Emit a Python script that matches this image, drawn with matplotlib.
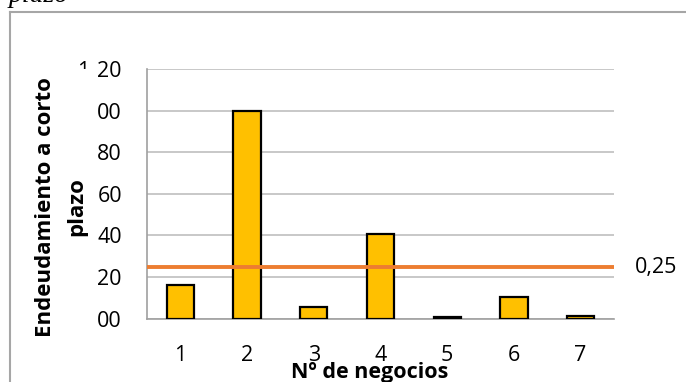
import matplotlib
matplotlib.use("Agg")
import matplotlib.pyplot as plt
from matplotlib.lines import Line2D
from matplotlib.transforms import Bbox

plt.rcParams['font.family'] = ['Open Sans', 'DejaVu Sans']

# data
negocios = [1, 2, 3, 4, 5, 6, 7]
endeudamiento = [0.163, 1.00, 0.058, 0.407, 0.008, 0.103, 0.012]
referencia = 0.25
y_ticks = [0.0, 0.2, 0.4, 0.6, 0.8, 1.0, 1.2]
y_tick_labels = ["00", "20", "40", "60", "80", "00", "20"]

W, H = 686, 382
fig = plt.figure(figsize=(W / 100, H / 100), dpi=100)

def fx(px):
    return px / W

def fy(py):
    return 1 - py / H

left, right, top, bottom = 147, 614, 69, 318.7
ax = fig.add_axes([fx(left), fy(bottom), fx(right - left), fy(top) - fy(bottom)])

ax.bar(negocios, endeudamiento, width=0.41, color="#FFC000",
       edgecolor="black", linewidth=1.6, zorder=3)
ax.axhline(referencia, color="#ED7D31", linewidth=2.8, zorder=4)

ax.set_xlim(0.5, 7.5)
ax.set_ylim(0, 1.2)
ax.set_yticks(y_ticks)
ax.set_yticklabels(y_tick_labels)
ax.set_xticks(negocios)
ax.set_xticklabels([str(n) for n in negocios])
ax.yaxis.grid(True, color="#BFBFBF", linewidth=1.2, zorder=0)
ax.set_axisbelow(True)
ax.tick_params(axis="both", length=0, labelsize=15.5, colors="black")
ax.tick_params(axis="y", pad=18)
ax.tick_params(axis="x", pad=19)
for s in ("top", "right"):
    ax.spines[s].set_visible(False)
for s in ("left", "bottom"):
    ax.spines[s].set_color("#A0A0A0")
    ax.spines[s].set_linewidth(1.2)

# value of the reference line
fig.text(fx(635), fy(267), "0,25", fontsize=15.5, ha="left", va="center")

# leading digit of the top tick, partly hidden
t1 = fig.text(fx(77), fy(61), "1", fontsize=15.5, ha="left", va="top")
t1.set_clip_box(Bbox.from_extents(0, H - 69, W, H))
t1.set_clip_on(True)

# axis titles
fig.text(fx(61), fy(207), "Endeudamiento a corto\nplazo", fontsize=16,
         fontweight="bold", rotation=90, ha="center", va="center",
         multialignment="center", linespacing=1.62)
fig.text(fx(370), fy(378), "Nº de negocios", fontsize=15.5,
         fontweight="bold", ha="center", va="baseline")

# caption fragment above the chart frame
fig.text(fx(9), fy(2), "plazo", fontsize=20, family="Liberation Serif",
         style="italic", ha="left", va="baseline")

# chart frame
fig.add_artist(Line2D([fx(10), fx(10)], [fy(12), 0], transform=fig.transFigure,
                      color="#A6A6A6", linewidth=1.5))
fig.add_artist(Line2D([fx(10), 1], [fy(12), fy(12)], transform=fig.transFigure,
                      color="#A6A6A6", linewidth=1.5))

fig.savefig("out.png", dpi=100)
